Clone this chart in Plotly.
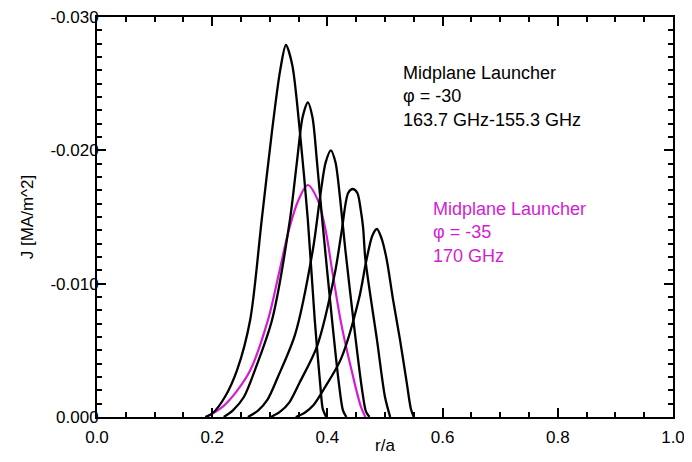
"""
Current density profiles J(r/a) for midplane launcher steering cases
"""
import plotly.graph_objects as go

# ---- data ----
# phi = -30, five frequencies (163.7 GHz ... 155.3 GHz)
r_1 = [0.188, 0.201, 0.222, 0.243, 0.266, 0.286, 0.304, 0.318, 0.328, 0.339, 0.352, 0.366, 0.378, 0.388, 0.392, 0.398]
j_1 = [0, -0.0003, -0.0015, -0.0035, -0.0073, -0.0148, -0.0215, -0.0260, -0.0279, -0.0264, -0.0215, -0.0148, -0.0073, -0.0022, -0.0006, 0]

r_2 = [0.220, 0.236, 0.255, 0.274, 0.304, 0.335, 0.347, 0.357, 0.366, 0.374, 0.382, 0.391, 0.408, 0.420, 0.427, 0.433]
j_2 = [0, -0.0005, -0.0015, -0.0035, -0.0073, -0.0148, -0.0191, -0.0225, -0.0236, -0.0225, -0.0191, -0.0148, -0.0073, -0.0025, -0.0005, 0]

r_3 = [0.262, 0.280, 0.296, 0.314, 0.344, 0.375, 0.387, 0.397, 0.406, 0.414, 0.422, 0.431, 0.448, 0.460, 0.467, 0.473]
j_3 = [0, -0.0005, -0.0013, -0.0030, -0.0062, -0.0126, -0.0164, -0.0191, -0.0200, -0.0191, -0.0164, -0.0126, -0.0062, -0.0021, -0.0004, 0]

r_4 = [0.302, 0.318, 0.334, 0.352, 0.382, 0.413, 0.425, 0.436, 0.444, 0.452, 0.458, 0.462, 0.466, 0.486, 0.500, 0.509]
j_4 = [0, -0.0004, -0.0011, -0.0026, -0.0053, -0.0108, -0.0140, -0.0168, -0.0171, -0.0168, -0.0155, -0.0142, -0.0118, -0.0058, -0.0015, 0]

r_5 = [0.345, 0.360, 0.376, 0.394, 0.424, 0.455, 0.467, 0.478, 0.486, 0.494, 0.503, 0.514, 0.526, 0.538, 0.545, 0.550]
j_5 = [0, -0.0003, -0.0009, -0.0021, -0.0044, -0.0089, -0.0116, -0.0136, -0.0141, -0.0134, -0.0118, -0.0088, -0.0058, -0.0025, -0.0006, 0]

# phi = -35, 170 GHz
r_35 = [0.190, 0.219, 0.242, 0.266, 0.297, 0.316, 0.333, 0.350, 0.366, 0.383, 0.396, 0.409, 0.424, 0.442, 0.458, 0.466]
j_35 = [0, -0.0008, -0.0019, -0.0035, -0.0073, -0.0108, -0.0140, -0.0163, -0.0174, -0.0163, -0.0142, -0.0108, -0.0070, -0.0035, -0.0008, 0]

x_ticks = [0.0, 0.2, 0.4, 0.6, 0.8, 1.0]
x_tick_labels = ["0.0", "0.2", "0.4", "0.6", "0.8", "1.0"]
y_ticks = [0.0, -0.010, -0.020, -0.030]
y_tick_labels = ["0.000", "-0.010", "-0.020", "-0.030"]

FONT = "Liberation Sans, Arial, Helvetica, sans-serif"
MAGENTA = "#d21ed2"

fig = go.Figure()

# magenta first so the black curves sit on top of it
fig.add_trace(go.Scatter(x=r_35, y=j_35, mode="lines",
                         line=dict(color=MAGENTA, width=2.2, shape="spline", smoothing=1.0)))

for r, j in [(r_1, j_1), (r_2, j_2), (r_3, j_3), (r_4, j_4), (r_5, j_5)]:
    fig.add_trace(go.Scatter(x=r, y=j, mode="lines",
                             line=dict(color="black", width=2.3, shape="spline", smoothing=0.8)))

axis_common = dict(
    ticks="inside", tickcolor="black", tickwidth=1.5,
    showline=True, linecolor="black", linewidth=2, mirror="ticks",
    showgrid=False, zeroline=False, ticklabeloverflow="allow",
    tickfont=dict(size=17, color="black", family=FONT),
)

# the page body adds an 8px offset, so the figure is sized to fit inside it
fig.update_layout(
    width=676, height=446,
    margin=dict(l=89, r=11, t=9, b=37, autoexpand=False),
    paper_bgcolor="white", plot_bgcolor="white",
    showlegend=False,
    font=dict(family=FONT, color="black"),
    xaxis=dict(
        range=[0, 1], tickvals=x_ticks, ticktext=x_tick_labels, ticklen=9,
        minor=dict(ticks="inside", ticklen=5, dtick=0.05, tick0=0, tickcolor="black", tickwidth=1.5),
        ticklabelstandoff=4,
        automargin=False,
        **axis_common,
    ),
    yaxis=dict(
        range=[0, -0.030], tickvals=y_ticks, ticktext=y_tick_labels, ticklen=9,
        minor=dict(ticks="inside", ticklen=5, dtick=0.001, tick0=0, tickcolor="black", tickwidth=1.5),
        ticklabelstandoff=-7,
        title=dict(text="J [MA/m^2]", font=dict(size=17, family=FONT), standoff=12),
        automargin=False,
        **axis_common,
    ),
)

# x title placed by hand, low but still inside the figure
fig.add_annotation(
    text="r/a", xref="paper", yref="paper", x=0.5, y=-0.072,
    xanchor="center", yanchor="middle", showarrow=False,
    font=dict(size=17, color="black", family=FONT),
)

fig.add_annotation(
    text="Midplane Launcher<br>\u03c6 = -30<br>163.7 GHz-155.3 GHz",
    xref="paper", yref="paper", x=0.527, y=0.89, xanchor="left", yanchor="top",
    align="left", showarrow=False, font=dict(size=18, color="black", family=FONT),
)
fig.add_annotation(
    text="Midplane Launcher<br>\u03c6 = -35<br>170 GHz",
    xref="paper", yref="paper", x=0.579, y=0.55, xanchor="left", yanchor="top",
    align="left", showarrow=False, font=dict(size=18, color=MAGENTA, family=FONT),
)

fig.write_html("out.html")
